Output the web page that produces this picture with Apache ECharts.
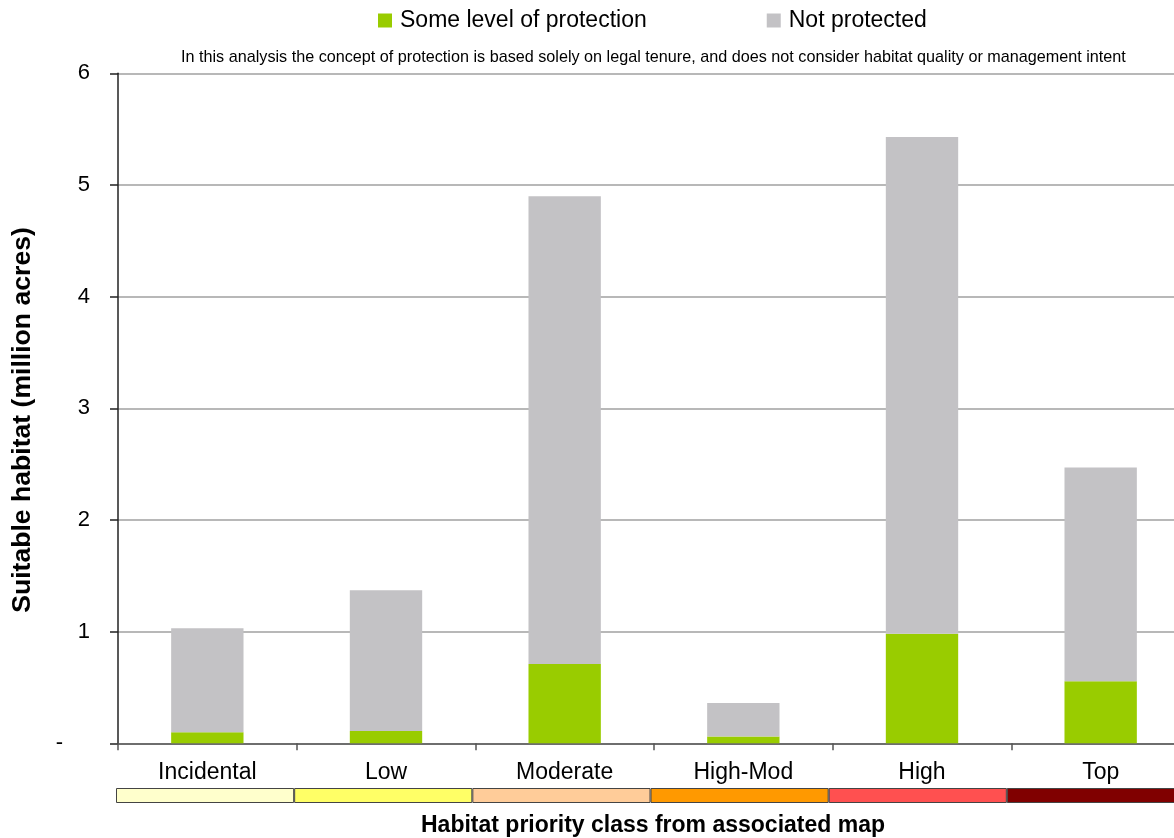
<!DOCTYPE html>
<html>
<head>
<meta charset="utf-8">
<script src="https://cdn.jsdelivr.net/npm/echarts@6/dist/echarts.min.js"></script>
<style>
  html, body { margin: 0; padding: 0; background: #fff; overflow: hidden; }
  /* the plot runs past the right edge of the window, so the canvas is a bit wider */
  #chart { width: 1200px; height: 838px; }
</style>
</head>
<body>
<div id="chart"></div>
<script>
// Habitat priority classes (x categories)
const categories = ['Incidental', 'Low', 'Moderate', 'High-Mod', 'High', 'Top'];
// Million acres with some level of protection
const protectedAcres = [0.10, 0.11, 0.71, 0.06, 0.98, 0.555];
// Million acres not protected
const notProtectedAcres = [0.93, 1.26, 4.19, 0.30, 4.45, 1.915];
// Y axis ticks
const yTicks = [0, 1, 2, 3, 4, 5, 6];
// Colour key of each priority class on the associated map
const classColors = ['#FFFFCC', '#FFFF66', '#FFCC99', '#FF9900', '#FF5050', '#800000'];
const classKey = categories.map(() => 1);

const FONT = 'Liberation Sans, Arial, sans-serif';

const chart = echarts.init(document.getElementById('chart'), null, { renderer: 'canvas' });

chart.setOption({
  animation: false,
  backgroundColor: '#ffffff',
  textStyle: { fontFamily: FONT },
  title: {
    text: 'In this analysis the concept of protection is based solely on legal tenure, and does not consider habitat quality or management intent',
    left: 181,
    top: 50,
    padding: 0,
    textStyle: { fontSize: 16.2, fontWeight: 'normal', color: '#000', fontFamily: FONT }
  },
  legend: {
    left: 373,
    top: 4,
    itemWidth: 14,
    itemHeight: 14,
    itemGap: 120,
    icon: 'rect',
    textStyle: { fontSize: 23, color: '#000', fontFamily: FONT, padding: [0, 0, 0, 3] },
    data: ['Some level of protection', 'Not protected']
  },
  grid: [
    { left: 118, top: 73.3, bottom: 94.7, right: 10, containLabel: false },
    { left: 116, top: 788, height: 15, right: 15, containLabel: false }
  ],
  xAxis: [
    {
      type: 'category',
      gridIndex: 0,
      data: categories,
      axisLine: { lineStyle: { color: '#555', width: 1.5 } },
      axisTick: { show: true, length: 7, lineStyle: { color: '#555', width: 1.5 } },
      axisLabel: { fontSize: 23, color: '#000', margin: 18, fontFamily: FONT },
      splitLine: { show: false }
    },
    {
      type: 'category',
      gridIndex: 1,
      data: categories,
      show: false
    }
  ],
  yAxis: [
    {
      type: 'value',
      gridIndex: 0,
      min: yTicks[0],
      max: yTicks[yTicks.length - 1],
      interval: 1,
      axisLine: { show: true, lineStyle: { color: '#222', width: 1.5 } },
      axisTick: { show: true, length: 8, lineStyle: { color: '#222', width: 1.5 } },
      axisLabel: {
        fontSize: 22, color: '#000', margin: 28, fontFamily: FONT,
        formatter: v => (v === 0 ? '{dash|-}' : String(v)),
        rich: { dash: { fontSize: 22, color: '#000', fontFamily: FONT, padding: [0, 27, 0, 0] } }
      },
      splitLine: { show: true, lineStyle: { color: '#A0A0A0', width: 1.5 } }
    },
    {
      type: 'value',
      gridIndex: 1,
      min: 0,
      max: 1,
      show: false
    }
  ],
  series: [
    {
      name: 'Some level of protection',
      type: 'bar',
      stack: 'total',
      xAxisIndex: 0,
      yAxisIndex: 0,
      barWidth: '40.5%',
      itemStyle: { color: '#99CC00' },
      data: protectedAcres
    },
    {
      name: 'Not protected',
      type: 'bar',
      stack: 'total',
      xAxisIndex: 0,
      yAxisIndex: 0,
      barWidth: '40.5%',
      itemStyle: { color: '#C3C2C5' },
      data: notProtectedAcres
    },
    {
      name: 'Priority class key',
      type: 'bar',
      xAxisIndex: 1,
      yAxisIndex: 1,
      barWidth: '100%',
      barCategoryGap: '0%',
      silent: true,
      data: classKey.map((v, i) => ({
        value: v,
        itemStyle: { color: classColors[i], borderColor: '#444', borderWidth: 1 }
      }))
    }
  ],
  graphic: [
    {
      type: 'text',
      x: 23,
      y: 420,
      rotation: Math.PI / 2,
      style: {
        text: 'Suitable habitat (million acres)',
        font: 'bold 26.6px ' + FONT,
        fill: '#000',
        textAlign: 'center',
        textVerticalAlign: 'middle'
      }
    },
    {
      type: 'text',
      x: 653,
      y: 826,
      style: {
        text: 'Habitat priority class from associated map',
        font: 'bold 23px ' + FONT,
        fill: '#000',
        textAlign: 'center',
        textVerticalAlign: 'middle'
      }
    }
  ]
});
</script>
</body>
</html>
